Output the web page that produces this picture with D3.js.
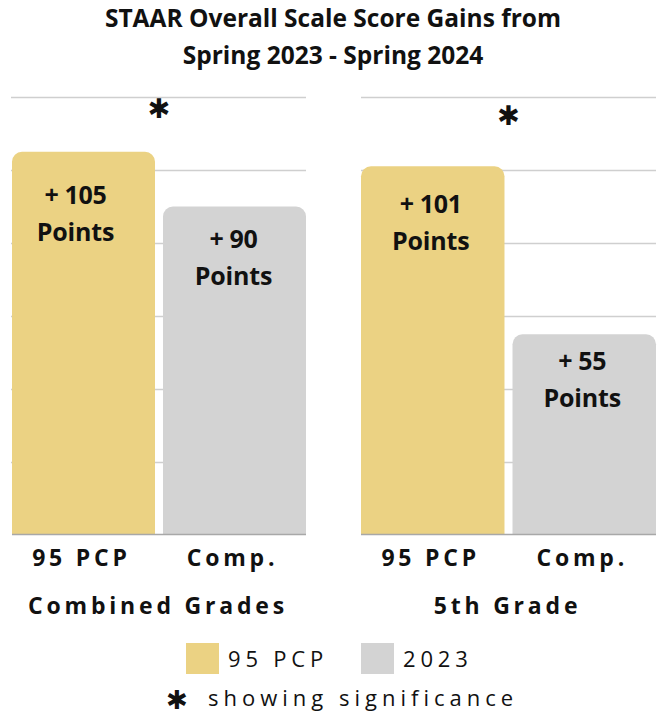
<!DOCTYPE html>
<html><head><meta charset="utf-8">
<script src="https://cdn.jsdelivr.net/npm/d3@7"></script>
<style>
html,body{margin:0;padding:0;background:#fff;}
text{font-family:"Open Sans",sans-serif;fill:#111;}
</style></head>
<body>
<svg id="chart" width="662" height="715"></svg>
<script>
// ---- data ----
const titleLines = ["STAAR Overall Scale Score Gains from", "Spring 2023 - Spring 2024"];
const groups = ["Combined Grades", "5th Grade"];
const categories = ["95 PCP", "Comp."];
const pcpValues = [105, 101];
const compValues = [90, 55];
const significant = [true, true];
const legendLabels = ["95 PCP", "2023"];
const noteLabel = "showing significance";
const gridTicks = [20, 40, 60, 80, 100, 120];

// ---- style / layout ----
const colors = ["#EBD283", "#D3D3D3"];
const panelRanges = [[12, 306], [361, 656]];
const gridRanges = [[11, 306], [361, 656]];
const labelDy = [[43, 32], [38, 27]];
const labelDx = [[-8, -1], [-2, -2]];
const starY = [108, 115];
const starChar = "\u2731";

const svg = d3.select("#chart");
const y = d3.scaleLinear().domain([0, 120]).range([535, 97]);

// title
svg.selectAll("text.title").data(titleLines).join("text")
  .attr("class", "title").attr("x", 333).attr("y", (d, i) => 27 + i * 37)
  .attr("text-anchor", "middle").style("font-size", "24.5px").style("font-weight", 700)
  .text(d => d);

function topRounded(x, yTop, w, h, r) {
  const p = d3.path();
  p.moveTo(x, yTop + h);
  p.lineTo(x, yTop + r);
  p.arcTo(x, yTop, x + r, yTop, r);
  p.lineTo(x + w - r, yTop);
  p.arcTo(x + w, yTop, x + w, yTop + r, r);
  p.lineTo(x + w, yTop + h);
  p.closePath();
  return p.toString();
}

groups.forEach((g, gi) => {
  const vals = [pcpValues[gi], compValues[gi]];
  const x = d3.scaleBand().domain(categories).range(panelRanges[gi]).paddingInner(0.053).paddingOuter(0);
  const gp = svg.append("g");
  // gridlines
  gp.selectAll("line.grid").data(gridTicks).join("line")
    .attr("x1", gridRanges[gi][0]).attr("x2", gridRanges[gi][1])
    .attr("y1", d => Math.round(y(d)) + 0.5).attr("y2", d => Math.round(y(d)) + 0.5)
    .attr("stroke", "#cfcfcf").attr("stroke-width", 1.5);
  // bars
  gp.selectAll("path.bar").data(categories).join("path")
    .attr("d", (c, i) => topRounded(x(c), y(vals[i]), x.bandwidth(), y(0) - y(vals[i]), 10))
    .attr("fill", (c, i) => colors[i]);
  // baseline
  gp.append("line").attr("x1", panelRanges[gi][0]).attr("x2", panelRanges[gi][1])
    .attr("y1", y(0) - 0.5).attr("y2", y(0) - 0.5).attr("stroke", "#a8a8a8").attr("stroke-width", 1.5);
  // value labels
  categories.forEach((c, i) => {
    const cx = x(c) + x.bandwidth() / 2 + labelDx[gi][i];
    const t0 = y(vals[i]) + labelDy[gi][i] + 9;
    gp.append("text").attr("x", cx).attr("y", t0).attr("text-anchor", "middle")
      .style("font-size", "25px").style("font-weight", 700).style("letter-spacing", "-0.3px").text("+ " + vals[i]);
    gp.append("text").attr("x", cx).attr("y", t0 + 37).attr("text-anchor", "middle")
      .style("font-size", "25px").style("font-weight", 700).style("letter-spacing", "-0.2px").text("Points");
  });
  // category labels
  gp.selectAll("text.cat").data(categories).join("text")
    .attr("x", c => x(c) + x.bandwidth() / 2 - 2).attr("y", 566).attr("text-anchor", "middle")
    .style("font-size", "23px").style("font-weight", 700).style("letter-spacing", "3.8px")
    .text(c => c);
  // group label
  gp.append("text").attr("x", (panelRanges[gi][0] + panelRanges[gi][1]) / 2 - 1).attr("y", 614)
    .attr("text-anchor", "middle").style("font-size", "23px").style("font-weight", 700)
    .style("letter-spacing", "3.8px").text(g);
  // significance star
  if (significant[gi]) {
    gp.append("text").attr("x", (panelRanges[gi][0] + panelRanges[gi][1]) / 2).attr("y", starY[gi])
      .attr("text-anchor", "middle").attr("dominant-baseline", "central")
      .style("font-family", "'DejaVu Sans'").style("font-size", "27px").text(starChar);
  }
});

// legend
const legendX = [186, 361];
const lg = svg.append("g");
legendLabels.forEach((l, i) => {
  lg.append("rect").attr("x", legendX[i]).attr("y", 643).attr("width", 33).attr("height", 31).attr("fill", colors[i]);
  lg.append("text").attr("x", legendX[i] + 42).attr("y", 667)
    .style("font-size", "22px").style("letter-spacing", "4.8px").text(l);
});
lg.append("text").attr("x", 177).attr("y", 700).attr("text-anchor", "middle").attr("dominant-baseline", "central")
  .style("font-family", "'DejaVu Sans'").style("font-size", "26px").text(starChar);
lg.append("text").attr("x", 208).attr("y", 706)
  .style("font-size", "22px").style("letter-spacing", "5px").text(noteLabel);
</script>
</body></html>
